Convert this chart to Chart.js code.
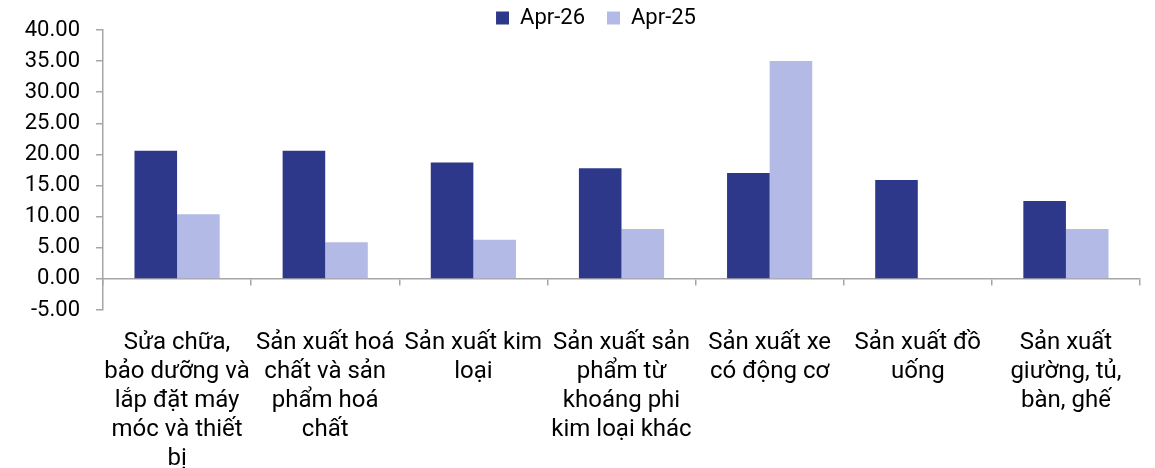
<!DOCTYPE html>
<html>
<head>
<meta charset="utf-8">
<script src="https://cdn.jsdelivr.net/npm/chart.js@4/dist/chart.umd.min.js"></script>
<style>
  html, body { margin: 0; padding: 0; background: #fff; }
  #wrap { width: 1155px; height: 468px; }
</style>
</head>
<body>
<div id="wrap"><canvas id="chart"></canvas></div>
<script>
// categories (multi-line labels as in the picture)
const categories = [
  ['Sửa chữa,', 'bảo dưỡng và', 'lắp đặt máy', 'móc và thiết', 'bị'],
  ['Sản xuất hoá', 'chất và sản', 'phẩm hoá', 'chất'],
  ['Sản xuất kim', 'loại'],
  ['Sản xuất sản', 'phẩm từ', 'khoáng phi', 'kim loại khác'],
  ['Sản xuất xe', 'có động cơ'],
  ['Sản xuất đồ', 'uống'],
  ['Sản xuất', 'giường, tủ,', 'bàn, ghế']
];
const seriesNames = ['Apr-26', 'Apr-25'];
const apr26 = [20.6, 20.6, 18.7, 17.8, 17.0, 15.9, 12.5];
const apr25 = [10.4, 5.9, 6.3, 8.0, 35.0, null, 8.0];
const yMin = -5, yMax = 40, yStep = 5;

const navy = '#2E388A';
const lilac = '#B3BAE6';
const axisGray = '#A6A6A6';
const font = 'Roboto, "Noto Sans", sans-serif';

// legend: wide item spacing but a short box, and centred over the plot
const legendNudge = {
  id: 'legendNudge',
  beforeLayout(chart) {
    const lg = chart.legend;
    if (lg && !lg._wrapped) {
      const fit = lg.fit;
      lg.fit = function () { fit.call(this); this.height = 30; };
      lg._wrapped = true;
    }
  },
  afterLayout(chart) {
    const lg = chart.legend;
    lg.left += 26; lg.right += 26;
    lg.top = -15; lg.bottom = 45; lg.height = 60;
  }
};

new Chart(document.getElementById('chart'), {
  type: 'bar',
  data: {
    labels: categories,
    datasets: [
      { label: seriesNames[0], data: apr26, backgroundColor: navy, barPercentage: 1, categoryPercentage: 0.575 },
      { label: seriesNames[1], data: apr25, backgroundColor: lilac, barPercentage: 1, categoryPercentage: 0.575 }
    ]
  },
  plugins: [legendNudge],
  options: {
    responsive: true,
    maintainAspectRatio: false,
    animation: false,
    layout: { padding: { left: 0, right: 15, top: 0, bottom: 0 } },
    plugins: {
      legend: {
        position: 'top',
        labels: {
          color: '#000',
          font: { family: font, size: 22 },
          boxWidth: 13,
          boxHeight: 13,
          padding: 22
        }
      },
      tooltip: { enabled: false }
    },
    scales: {
      x: {
        position: 'bottom',
        afterFit: s => { s.height = 158; },
        grid: { display: false },
        border: { display: false },
        ticks: {
          color: '#000',
          font: { family: font, size: 24, lineHeight: 1.2 },
          padding: 11,
          maxRotation: 0,
          autoSkip: false
        }
      },
      x2: {
        type: 'category',
        axis: 'x',
        position: { y: 0 },
        offset: true,
        grid: { offset: true, drawOnChartArea: false, tickLength: 6, color: axisGray, lineWidth: 1.5 },
        border: { color: axisGray, width: 1.5 },
        ticks: { display: false }
      },
      y: {
        min: yMin,
        max: yMax,
        afterFit: s => { s.width = 103; },
        grid: { drawOnChartArea: false, tickLength: 7, color: axisGray, lineWidth: 1.5 },
        border: { color: axisGray, width: 1.5 },
        ticks: {
          stepSize: yStep,
          autoSkip: false,
          color: '#000',
          font: { family: font, size: 22 },
          padding: 16,
          callback: v => v.toFixed(2)
        }
      }
    }
  }
});
</script>
</body>
</html>
